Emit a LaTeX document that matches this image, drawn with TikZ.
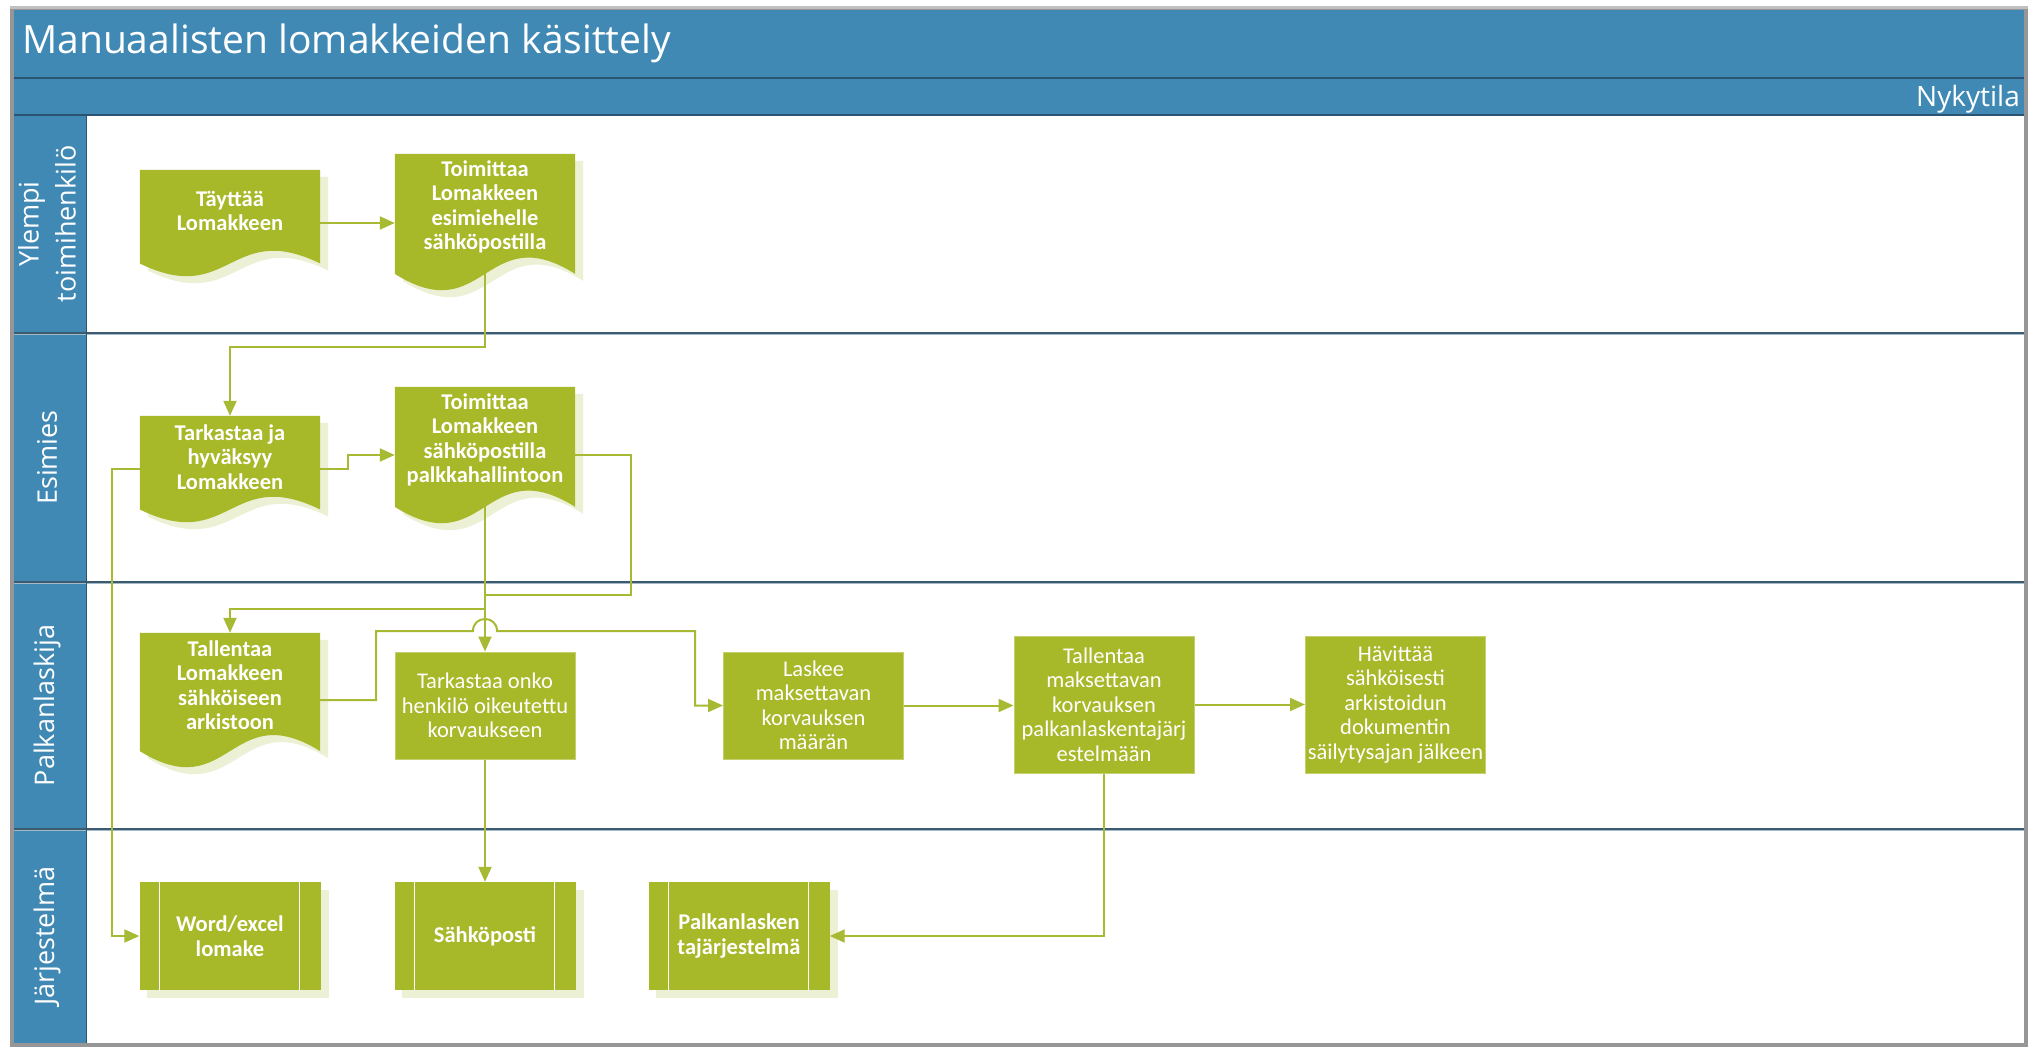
\documentclass[tikz,border=0pt]{standalone}
\usepackage{fontspec}
\setmainfont{Carlito}
\newfontfamily\uifont{Open Sans}
\usetikzlibrary{arrows.meta,calc}

\definecolor{laneblue}{RGB}{64,137,180}
\definecolor{darkline}{RGB}{42,84,114}
\definecolor{sepline}{RGB}{60,90,112}
\definecolor{seplight}{RGB}{165,186,200}
\definecolor{framegray}{RGB}{150,150,150}
\definecolor{boxgreen}{RGB}{167,184,40}
\definecolor{linegreen}{RGB}{168,186,52}
\definecolor{shadowgreen}{RGB}{236,240,212}
\definecolor{edgegreen}{RGB}{196,208,110}

\pgfdeclarelayer{lanes}
\pgfdeclarelayer{shadows}
\pgfdeclarelayer{links}
\pgfdeclarelayer{shapes}
\pgfsetlayers{lanes,shadows,links,shapes,main}

% document shape with a wavy lower edge: node, height, dx, dy, colour
\newcommand\docbody[5]{%
  \fill[#5] ($(#1.north west)+(#3,#4)$) -- ($(#1.north east)+(#3,#4)$)
    -- ($(#1.south east)+(#3,{#4-0.12*#2})$)
    .. controls ($(#1.south)+(#3,{#4-0.535*#2})$) and ($(#1.south)+(#3,{#4+0.295*#2})$)
    .. ($(#1.south west)+(#3,{#4-0.12*#2})$) -- cycle;}
\newcommand\docshape[2]{%
  \begin{pgfonlayer}{shadows}\docbody{#1}{#2}{8}{7}{shadowgreen}\end{pgfonlayer}
  \begin{pgfonlayer}{shapes}\docbody{#1}{#2}{0}{0}{boxgreen}\end{pgfonlayer}}
% predefined-process box: shadow and the two inner side bars
\newcommand\sysshape[1]{%
  \begin{pgfonlayer}{shadows}
    \fill[shadowgreen] ($(#1.north west)+(8,8)$) rectangle ($(#1.south east)+(8,8)$);
  \end{pgfonlayer}
  \draw[white, line width=1.5pt] ($(#1.north west)+(20,0)$) -- ($(#1.south west)+(20,0)$);
  \draw[white, line width=1.5pt] ($(#1.north east)+(-21,0)$) -- ($(#1.south east)+(-21,0)$);}

\begin{document}
\begin{tikzpicture}[x=1pt,y=-1pt,
  boxtext/.style={text=white, align=center, font=\bfseries\fontsize{22.5}{24.5}\selectfont},
  plaintext/.style={text=white, align=center, font=\fontsize{22.5}{24.5}\selectfont},
  docnode/.style={minimum width=180pt, inner sep=0pt, draw=none},
  procbox/.style={fill=boxgreen, draw=edgegreen, line width=1pt, minimum width=180pt, inner sep=0pt, plaintext},
  sysbox/.style={fill=boxgreen, minimum width=181pt, minimum height=108pt, inner sep=0pt, boxtext},
  conn/.style={draw=linegreen, line width=2pt, -{Triangle[length=15pt,width=13pt]}},
  link/.style={draw=linegreen, line width=2pt},
  lanetitle/.style={text=white, font=\uifont\fontsize{27}{37}\selectfont, align=center, rotate=90, inner sep=0pt}]

\useasboundingbox (0,0) rectangle (2040,1047);

% ---------- pool, header bars and lanes ----------
\begin{pgfonlayer}{lanes}
  \fill[white] (0,0) rectangle (2040,1047);
  \fill[framegray!60] (10,6) rectangle (2028,1047);
  \fill[framegray] (10,9) rectangle (2028,1047);
  \fill[white] (14,10) rectangle (2024,1043);
  \fill[laneblue] (14,10) rectangle (2024,115);
  \fill[laneblue] (14,115) rectangle (86,1043);
  \draw[darkline, line width=2pt] (14,78) -- (2024,78);
  \draw[darkline, line width=2pt] (14,115) -- (2024,115);
  \foreach \yy in {333,582,829} {
    \draw[sepline, line width=2pt] (14,\yy) -- (2024,\yy);
    \draw[seplight, line width=1pt] (14,\yy+1.8) -- (2024,\yy+1.8);
  }
  \draw[darkline, line width=1pt] (86,115) -- (86,1043);
\end{pgfonlayer}

\node[anchor=base west, inner sep=0pt, text=white, font=\uifont\fontsize{39}{45}\selectfont]
  (title) at (22,53) {Manuaalisten lomakkeiden käsittely};
\node[anchor=base east, inner sep=0pt, text=white, font=\uifont\fontsize{28}{32}\selectfont]
  (state) at (2020,106) {Nykytila};

\node[lanetitle] (lane1) at (47,224) {Ylempi\\toimihenkilö};
\node[lanetitle] (lane2) at (47,457.5) {Esimies};
\node[lanetitle] (lane3) at (47,705.5) {Palkanlaskija};
\node[lanetitle] (lane4) at (47,936) {Järjestelmä};

% ---------- document steps ----------
\node[docnode, minimum height=106pt,
  label={[boxtext, name=tay-t, yshift=12pt]center:{Täyttää\\Lomakkeen}}] (tay) at (230,223) {};
\node[docnode, minimum height=136pt,
  label={[boxtext, name=toim1-t, yshift=15pt]center:{Toimittaa\\Lomakkeen\\esimiehelle\\sähköpostilla}}] (toim1) at (485,222) {};
\node[docnode, minimum height=106pt,
  label={[boxtext, name=tark-t, yshift=12pt]center:{Tarkastaa ja\\hyväksyy\\Lomakkeen}}] (tark) at (230,469) {};
\node[docnode, minimum height=136pt,
  label={[boxtext, name=toim2-t, yshift=15pt]center:{Toimittaa\\Lomakkeen\\sähköpostilla\\palkkahallintoon}}] (toim2) at (485,455) {};
\node[docnode, minimum height=134pt,
  label={[boxtext, name=tall1-t, yshift=15pt]center:{Tallentaa\\Lomakkeen\\sähköiseen\\arkistoon}}] (tall1) at (230,700) {};
\docshape{tay}{106}
\docshape{toim1}{136}
\docshape{tark}{106}
\docshape{toim2}{136}
\docshape{tall1}{134}

% ---------- process steps ----------
\node[procbox, minimum height=107pt] (tonko) at (485,705.5) {Tarkastaa onko\\henkilö oikeutettu\\korvaukseen};
\node[procbox, minimum height=107pt] (lask) at (813.5,705.5) {Laskee\\maksettavan\\korvauksen\\määrän};
\node[procbox, minimum height=137pt] (tall2) at (1104,704.5) {Tallentaa\\maksettavan\\korvauksen\\palkanlaskentajärj\\estelmään};
\node[procbox, minimum height=137pt] (havi) at (1395.5,704.5) {Hävittää\\sähköisesti\\arkistoidun\\dokumentin\\säilytysajan jälkeen};

% ---------- systems ----------
\node[sysbox] (word) at (230,936) {Word/excel\\lomake};
\node[sysbox] (sahko) at (485,936) {Sähköposti};
\node[sysbox] (palk) at (739,936) {Palkanlasken\\tajärjestelmä};
\sysshape{word}
\sysshape{sahko}
\sysshape{palk}

% ---------- connectors ----------
\coordinate (r1) at (0,347);
\coordinate (c2) at (348,0);
\coordinate (c3) at (112,0);
\coordinate (c4) at (631,0);
\coordinate (r5) at (0,595);
\coordinate (r6) at (0,609);
\coordinate (c7) at (376,0);
\coordinate (r8) at (0,631);
\coordinate (c9) at (695,0);
\coordinate (hop) at (r8 -| toim2.center);

\begin{pgfonlayer}{links}
  \draw[conn] (tay.east) -- (tay.east -| toim1.west);
  \draw[conn] (toim1.center) |- (r1 -| tark.north) -- (tark.north);
  \draw[conn] (tark.east) -| (c2 |- toim2.west) -- (toim2.west);
  \draw[conn] (tark.west) -| (c3 |- word.west) -- (word.west);
  \draw[link] (toim2.east) -| (c4 |- r5) -- (r5 -| toim2.center);
  \draw[conn] (toim2.center) |- (r6 -| tall1.north) -- (tall1.north);
  \draw[conn] (toim2.center) -- (tonko.north);
  \draw[conn] (tall1.east) -| (c7 |- r8) -- ($(hop)+(-12,0)$)
    .. controls ($(hop)+(-12,-16)$) and ($(hop)+(12,-16)$) .. ($(hop)+(12,0)$)
    -| (c9 |- lask.west) -- (lask.west);
  \draw[conn] (tonko.south) -- (sahko.north);
  \draw[conn] (lask.east) -- (lask.east -| tall2.west);
  \draw[conn] (tall2.east) -- (havi.west);
  \draw[conn] (tall2.south) |- (palk.east);
\end{pgfonlayer}
\end{tikzpicture}
\end{document}
